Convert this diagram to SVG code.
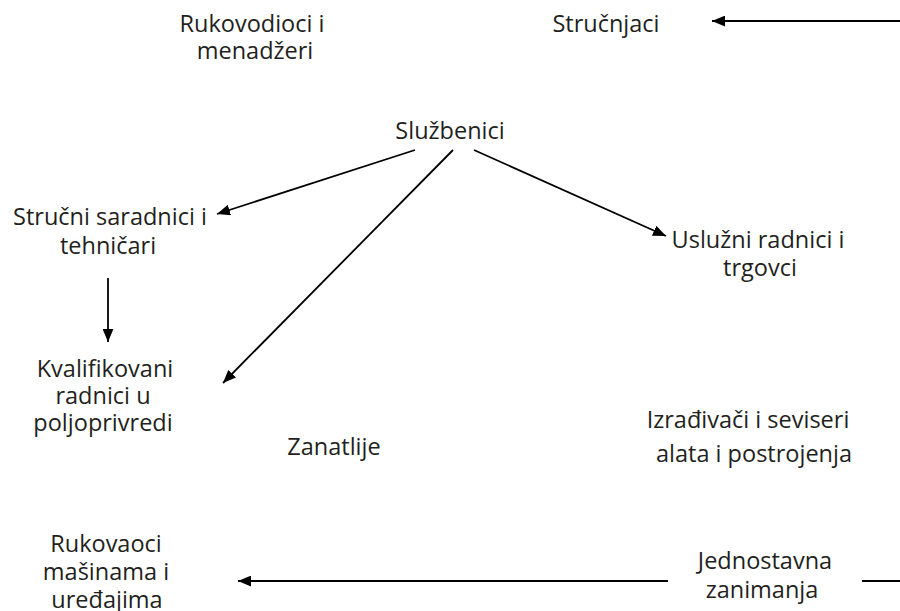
<svg xmlns="http://www.w3.org/2000/svg" width="900" height="611" viewBox="0 0 900 611">
<style>
text{font-family:"Open Sans","Liberation Sans",sans-serif;font-size:23.5px;fill:#231f20;text-anchor:middle}
.c line{stroke:#000;stroke-width:1.8;fill:none}
</style>
<defs>
<marker id="ah" viewBox="0 0 12 10" refX="12" refY="5" markerWidth="13" markerHeight="11" markerUnits="userSpaceOnUse" orient="auto">
<path d="M0,0L12,5L0,10z" fill="#000"/>
</marker>
</defs>
<rect width="900" height="611" fill="#fff"/>
<g id="rukovodioci"><text x="252" y="32">Rukovodioci i</text><text x="255" y="59">menadžeri</text></g>
<g id="strucnjaci"><text x="606" y="32">Stručnjaci</text></g>
<g id="sluzbenici"><text x="450" y="139">Službenici</text></g>
<g id="strucni"><text x="110" y="225">Stručni saradnici i</text><text x="108" y="254">tehničari</text></g>
<g id="usluzni"><text x="758" y="248">Uslužni radnici i</text><text x="760" y="276">trgovci</text></g>
<g id="kvalifikovani"><text x="105" y="377">Kvalifikovani</text><text x="103" y="404">radnici u</text><text x="103" y="431">poljoprivredi</text></g>
<g id="izradjivaci"><text x="748" y="428">Izrađivači i seviseri</text><text x="754" y="462">alata i postrojenja</text></g>
<g id="zanatlije"><text x="334" y="455">Zanatlije</text></g>
<g id="rukovaoci"><text x="106" y="552">Rukovaoci</text><text x="106" y="580">mašinama i</text><text x="107" y="608">uređajima</text></g>
<g id="jednostavna"><text x="765" y="569">Jednostavna</text><text x="762" y="598">zanimanja</text></g>
<g class="c" id="connectors">
<line x1="900" y1="21" x2="712" y2="21" marker-end="url(#ah)"/>
<line x1="415" y1="150" x2="217" y2="214" marker-end="url(#ah)"/>
<line x1="453" y1="150" x2="223" y2="383" marker-end="url(#ah)"/>
<line x1="474" y1="150" x2="666" y2="236" marker-end="url(#ah)"/>
<line x1="108" y1="278" x2="108" y2="342" marker-end="url(#ah)"/>
<line x1="668" y1="581" x2="238" y2="581" marker-end="url(#ah)"/>
<line x1="862" y1="581" x2="900" y2="581"/>
</g>
</svg>
